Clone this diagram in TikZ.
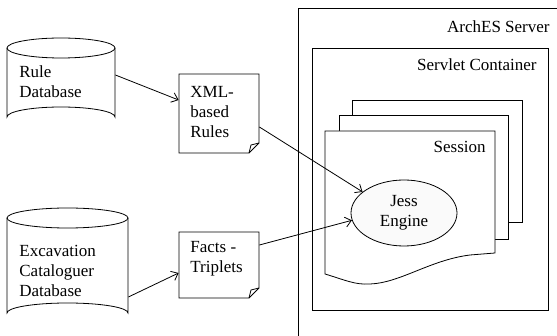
\documentclass[tikz,border=0pt]{standalone}
\usepackage{fontspec}
\setmainfont{Liberation Serif}
\usetikzlibrary{arrows.meta,shapes.geometric,calc}
\begin{document}
\begin{tikzpicture}[x=1pt,y=-1pt,line width=0.8pt,
  lbl/.style={font=\fontsize{17pt}{20pt}\selectfont,align=left,inner sep=0pt},
  arr/.style={-{Straight Barb[length=6pt,width=10pt]}},
  anchorbox/.style={draw=none,inner sep=0pt,fill=none}]
\useasboundingbox (0,0) rectangle (557,336);
\begin{scope}
\clip (0,0) rectangle (557,336);
% ArchES server
\draw (298,8) rectangle (562,342);
\node[lbl,anchor=east] (arches) at (550,27) {ArchES Server};
% Servlet container
\draw (312,48) rectangle (548,310);
\node[lbl,anchor=east] (servlet) at (537,65) {Servlet Container};
\end{scope}
% stacked sessions
\draw[fill=white] (352,100) rectangle (522,222);
\draw[fill=white] (339,115) rectangle (508,239);
\draw[fill=white] (325,131) -- (495,131) -- (495,253) -- (470,255)
  .. controls (430,260) and (400,283) .. (370,284)
  .. controls (355,285) and (345,280) .. (325,274) -- cycle;
\node[lbl,anchor=east] (session) at (486,147) {Session};
% Jess engine
\node[ellipse,draw,fill=black!2,minimum width=106pt,minimum height=66pt,inner sep=0pt] (jess) at (404,213) {};
\node[lbl,align=center] (jesstxt) at (404,212.5) {Jess\\Engine};
% Rule database
\draw (7,48) -- (7,117) arc[start angle=180,end angle=360,x radius=54,y radius=10] -- (115,48);
\draw (61,48) ellipse[x radius=54,y radius=10];
\node[anchorbox,minimum width=108pt,minimum height=89pt] (ruledb) at (61,82.5) {};
\node[lbl,anchor=west] (ruletxt) at (19,82) {Rule\\Database};
% Excavation database
\draw (7,218) -- (7,313) arc[start angle=180,end angle=360,x radius=60.5,y radius=10] -- (128,218);
\draw (67.5,218) ellipse[x radius=60.5,y radius=10];
\node[anchorbox,minimum width=121pt,minimum height=115pt] (excdb) at (67.5,265.5) {};
\node[lbl,anchor=west] (exctxt) at (19,271) {Excavation\\Cataloguer\\Database};
% XML document
\draw (179,74) -- (259,74) -- (259,143) -- (249,153) -- (179,153) -- cycle;
\draw (249,153) -- (251,145) -- (259,143);
\node[anchorbox,minimum width=80pt,minimum height=79pt] (xml) at (219,113.5) {};
\node[lbl,anchor=west] (xmltxt) at (190,112) {XML-\\based\\Rules};
% Facts document
\draw (179,232) -- (259,232) -- (259,288) -- (249,298) -- (179,298) -- cycle;
\draw (249,298) -- (251,290) -- (259,288);
\node[anchorbox,minimum width=80pt,minimum height=66pt] (facts) at (219,265) {};
\node[lbl,anchor=west] (factstxt) at (190,259) {Facts -\\Triplets};
% connectors
\draw[arr] ([yshift=7.5pt]ruledb.east) -- ([yshift=13.5pt]xml.west);
\draw[arr] ([yshift=-13.5pt]xml.east) -- (jess.153);
\draw[arr] ([yshift=-31.5pt]excdb.east) -- ([yshift=-8pt]facts.west);
\draw[arr] ([yshift=20pt]facts.east) -- (jess.188);
\end{tikzpicture}
\end{document}
